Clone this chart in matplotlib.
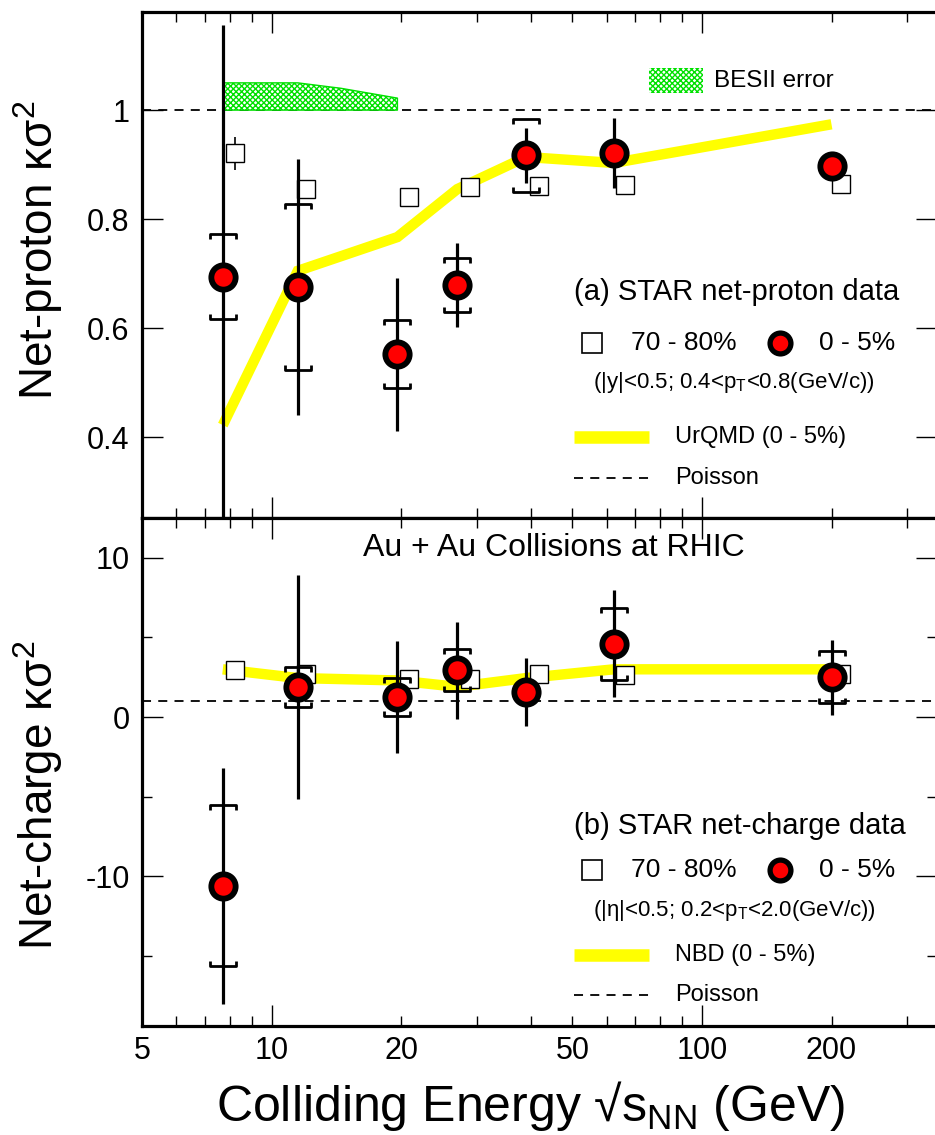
import numpy as np
import matplotlib.pyplot as plt
from matplotlib.path import Path
from matplotlib.patches import Rectangle
from matplotlib.ticker import FixedLocator, FuncFormatter, NullFormatter

plt.rcParams['font.family'] = ['Liberation Sans', 'DejaVu Sans']
plt.rcParams['mathtext.fontset'] = 'custom'
plt.rcParams['mathtext.rm'] = 'Liberation Sans'
plt.rcParams['mathtext.it'] = 'Liberation Sans:italic'
plt.rcParams['hatch.linewidth'] = 1.0

# collision energies (GeV); peripheral points are drawn slightly shifted
energy = [7.7, 11.5, 19.6, 27, 39, 62.4, 200]
energy_periph = [8.2, 12.0, 20.9, 28.9, 41.9, 66.2, 210]

# (a) net-proton kappa*sigma^2
proton_central = [0.694, 0.675, 0.552, 0.679, 0.917, 0.921, 0.897]
proton_central_stat = [0.462, 0.235, 0.14, 0.077, 0.05, 0.064, 0.012]
proton_central_sys = [0.078, 0.152, 0.062, 0.049, 0.067, 0.0, 0.0]
proton_periph = [0.921, 0.855, 0.840, 0.858, 0.860, 0.862, 0.864]
proton_periph_stat = [0.03, 0.0, 0.0, 0.0, 0.0, 0.0, 0.0]
urqmd = [0.422, 0.705, 0.767, 0.855, 0.914, 0.903, 0.974]
besii_energy = [7.7, 11.5, 14.5, 19.6]
besii_upper = [1.05, 1.05, 1.04, 1.022]

# (b) net-charge kappa*sigma^2
charge_central = [-10.6, 1.9, 1.26, 2.95, 1.57, 4.6, 2.5]
charge_central_stat = [7.4, 7.05, 3.5, 3.05, 2.15, 3.35, 2.35]
charge_central_sys = [5.05, 1.25, 1.18, 1.3, 0.0, 2.25, 1.62]
charge_periph = [2.95, 2.7, 2.4, 2.4, 2.7, 2.65, 2.7]
nbd = [3.0, 2.45, 2.3, 1.9, 2.45, 3.0, 3.0]

poisson = 1.0

top_br = Path([(-1, -0.4), (-1, 0), (1, 0), (1, -0.4)],
              [Path.MOVETO, Path.LINETO, Path.LINETO, Path.LINETO])
bot_br = Path([(-1, 0.4), (-1, 0), (1, 0), (1, 0.4)],
              [Path.MOVETO, Path.LINETO, Path.LINETO, Path.LINETO])


def draw_panel(ax, central, stat, sys, periph, model, periph_stat=None):
    e = np.array(energy)
    c = np.array(central)
    s = np.array(sys)
    ax.axhline(poisson, color='black', lw=1.3, ls=(0, (5, 4)), zorder=1)
    ax.plot(energy, model, color='#ffff00', lw=7.5, solid_capstyle='butt',
            solid_joinstyle='miter', zorder=2)
    if periph_stat is not None:
        ax.errorbar(energy_periph, periph, yerr=periph_stat, fmt='none',
                    ecolor='black', elinewidth=1.2, capsize=0, zorder=3)
    ax.plot(energy_periph, periph, ls='none', marker='s', ms=12.5, mfc='white',
            mec='black', mew=1.0, zorder=4)
    ax.errorbar(energy, central, yerr=stat, fmt='none', ecolor='black',
                elinewidth=2.3, capsize=0, zorder=5)
    has = s > 0
    ax.plot(e[has], (c + s)[has], ls='none', marker=top_br, ms=19, mfc='none',
            mec='black', mew=2.0, zorder=5)
    ax.plot(e[has], (c - s)[has], ls='none', marker=bot_br, ms=19, mfc='none',
            mec='black', mew=2.0, zorder=5)
    ax.plot(energy, central, ls='none', marker='o', ms=17.5, mfc='#ff0000',
            mec='black', mew=4.2, zorder=6)


def style_axis(ax):
    ax.set_xscale('log')
    ax.set_xlim(5, 352)
    for sp in ax.spines.values():
        sp.set_linewidth(2.3)
    ax.xaxis.set_major_locator(FixedLocator([10, 100]))
    ax.xaxis.set_minor_locator(FixedLocator([5, 6, 7, 8, 9, 20, 30, 40, 50, 60, 70,
                                             80, 90, 200, 300]))
    ax.xaxis.set_major_formatter(FuncFormatter(lambda v, p: '%g' % v))
    ax.xaxis.set_minor_formatter(FuncFormatter(
        lambda v, p: '%g' % v if v in (5, 20, 50, 200) else ''))
    ax.tick_params(which='both', direction='in', top=True, right=True,
                   labelsize=22, width=1.0)
    ax.tick_params(which='major', length=15)
    ax.tick_params(which='minor', length=7.5)
    ax.tick_params(axis='y', pad=9)
    ax.tick_params(axis='x', which='both', pad=7)


fig = plt.figure(figsize=(9.35, 11.35), dpi=100)
ax1 = fig.add_axes([0.152, 0.5436, 0.8503, 0.4458])
ax2 = fig.add_axes([0.152, 0.0960, 0.8503, 0.4476])

# ---- top panel ----
ax1.fill_between(besii_energy, poisson, besii_upper, facecolor='white',
                 edgecolor='#00e000', hatch='xxxxxx', lw=1.0, zorder=1.5)
draw_panel(ax1, proton_central, proton_central_stat, proton_central_sys,
           proton_periph, urqmd, proton_periph_stat)
style_axis(ax1)
ax1.set_ylim(0.2514, 1.18)
ax1.yaxis.set_major_locator(FixedLocator([0.4, 0.6, 0.8, 1.0]))
ax1.yaxis.set_major_formatter(FuncFormatter(lambda v, p: '%g' % v))
ax1.xaxis.set_major_formatter(NullFormatter())
ax1.xaxis.set_minor_formatter(NullFormatter())
ax1.set_ylabel('Net-proton κσ$^{2}$', fontsize=33)
ax1.yaxis.set_label_coords(-0.097, 0.53)

T = ax1.transAxes
ax1.add_patch(Rectangle((0.638, 0.840), 0.068, 0.049, transform=T,
                        facecolor='white', edgecolor='#00e000', hatch='xxxxxx',
                        lw=0, zorder=3))
ax1.text(0.719, 0.864, 'BESII error', transform=T, fontsize=17.5, va='center')
ax1.text(0.5435, 0.447, '(a) STAR net-proton data', transform=T, fontsize=21,
         va='center')
ax1.plot([0.566], [0.346], transform=T, marker='s', ms=14, mfc='white',
         mec='black', mew=1.2, clip_on=False)
ax1.text(0.615, 0.346, '70 - 80%', transform=T, fontsize=19, va='center')
ax1.plot([0.802], [0.346], transform=T, marker='o', ms=15, mfc='#ff0000',
         mec='black', mew=3.8, clip_on=False)
ax1.text(0.851, 0.346, '0 - 5%', transform=T, fontsize=19, va='center')
ax1.text(0.567, 0.267, '(|y|<0.5; 0.4<p$_\\mathregular{T}$<0.8(GeV/c))',
         transform=T, fontsize=16, va='center')
ax1.plot([0.5435, 0.638], [0.160, 0.160], transform=T, color='#ffff00', lw=9,
         solid_capstyle='butt')
ax1.text(0.670, 0.160, 'UrQMD (0 - 5%)', transform=T, fontsize=17, va='center')
ax1.plot([0.5435, 0.638], [0.079, 0.079], transform=T, color='black', lw=1.3,
         ls=(0, (5, 4)))
ax1.text(0.670, 0.079, 'Poisson', transform=T, fontsize=17, va='center')

# ---- bottom panel ----
draw_panel(ax2, charge_central, charge_central_stat, charge_central_sys,
           charge_periph, nbd)
style_axis(ax2)
ax2.set_ylim(-19.4, 12.5)
ax2.yaxis.set_major_locator(FixedLocator([-10, 0, 10]))
ax2.yaxis.set_minor_locator(FixedLocator([-15, -5, 5]))
ax2.yaxis.set_major_formatter(FuncFormatter(lambda v, p: '%g' % v))
ax2.set_ylabel('Net-charge κσ$^{2}$', fontsize=33)
ax2.yaxis.set_label_coords(-0.097, 0.455)
ax2.set_xlabel('Colliding Energy √s$_\\mathregular{NN}$ (GeV)', fontsize=36)
ax2.xaxis.set_label_coords(0.489, -0.104)
ax2.xaxis.label.set_va('top')

B = ax2.transAxes
ax2.text(0.518, 0.941, 'Au + Au Collisions at RHIC', transform=B, fontsize=23,
         ha='center', va='center')
ax2.text(0.5435, 0.394, '(b) STAR net-charge data', transform=B, fontsize=21,
         va='center')
ax2.plot([0.566], [0.307], transform=B, marker='s', ms=14, mfc='white',
         mec='black', mew=1.2, clip_on=False)
ax2.text(0.615, 0.307, '70 - 80%', transform=B, fontsize=19, va='center')
ax2.plot([0.802], [0.307], transform=B, marker='o', ms=15, mfc='#ff0000',
         mec='black', mew=3.8, clip_on=False)
ax2.text(0.851, 0.307, '0 - 5%', transform=B, fontsize=19, va='center')
ax2.text(0.567, 0.228, '(|η|<0.5; 0.2<p$_\\mathregular{T}$<2.0(GeV/c))',
         transform=B, fontsize=16, va='center')
ax2.plot([0.5435, 0.638], [0.140, 0.140], transform=B, color='#ffff00', lw=9,
         solid_capstyle='butt')
ax2.text(0.670, 0.140, 'NBD (0 - 5%)', transform=B, fontsize=17, va='center')
ax2.plot([0.5435, 0.638], [0.061, 0.061], transform=B, color='black', lw=1.3,
         ls=(0, (5, 4)))
ax2.text(0.670, 0.061, 'Poisson', transform=B, fontsize=17, va='center')

fig.savefig('out.png', dpi=100)
